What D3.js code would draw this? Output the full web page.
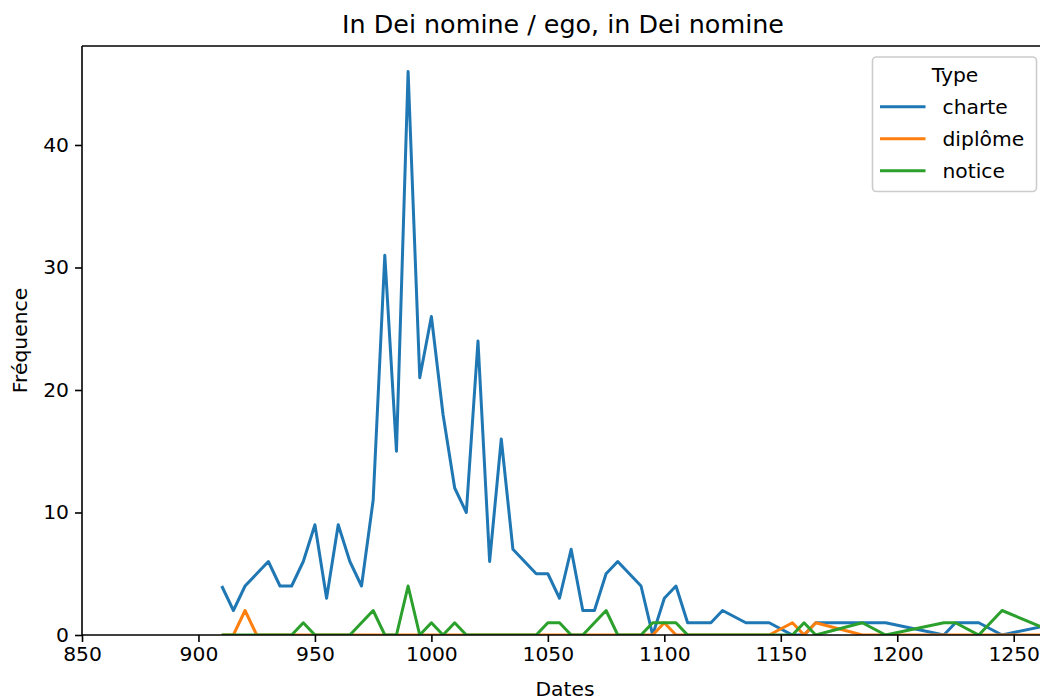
<!DOCTYPE html>
<html>
<head>
<meta charset="utf-8">
<script src="https://cdn.jsdelivr.net/npm/d3@7"></script>
<style>
  html, body { margin: 0; padding: 0; background: #fff; overflow: hidden; }
  text { font-family: "DejaVu Sans", sans-serif; fill: #000; }
</style>
</head>
<body>
<svg id="chart" width="1040" height="697"></svg>
<script>
// ---- data ----
const years = [910, 915, 920, 925, 930, 935, 940, 945, 950, 955, 960, 965, 970, 975, 980, 985, 990, 995,
  1000, 1005, 1010, 1015, 1020, 1025, 1030, 1035, 1040, 1045, 1050, 1055, 1060, 1065, 1070, 1075, 1080,
  1085, 1090, 1095, 1100, 1105, 1110, 1115, 1120, 1125, 1135, 1140, 1145, 1155, 1160, 1165, 1185, 1195,
  1220, 1225, 1235, 1245, 1270];
const charte = [4, 2, 4, 5, 6, 4, 4, 6, 9, 3, 9, 6, 4, 11, 31, 15, 46, 21,
  26, 18, 12, 10, 24, 6, 16, 7, 6, 5, 5, 3, 7, 2, 2, 5, 6,
  5, 4, 0, 3, 4, 1, 1, 1, 2, 1, 1, 1, 0, 0, 1, 1, 1,
  0, 1, 1, 0, 1];
const diplome = [0, 0, 2, 0, 0, 0, 0, 0, 0, 0, 0, 0, 0, 0, 0, 0, 0, 0,
  0, 0, 0, 0, 0, 0, 0, 0, 0, 0, 0, 0, 0, 0, 0, 0, 0,
  0, 0, 0, 1, 0, 0, 0, 0, 0, 0, 0, 0, 1, 0, 1, 0, 0,
  0, 0, 0, 0, 0];
const notice = [0, 0, 0, 0, 0, 0, 0, 1, 0, 0, 0, 0, 1, 2, 0, 0, 4, 0,
  1, 0, 1, 0, 0, 0, 0, 0, 0, 0, 1, 1, 0, 0, 1, 2, 0,
  0, 0, 1, 1, 1, 0, 0, 0, 0, 0, 0, 0, 0, 1, 0, 1, 0,
  1, 1, 0, 2, 0];
const seriesNames = ["charte", "diplôme", "notice"];
const seriesValues = [charte, diplome, notice];
const seriesColors = ["#1f77b4", "#ff7f0e", "#2ca02c"];
const xTicks = [850, 900, 950, 1000, 1050, 1100, 1150, 1200, 1250];
const yTicks = [0, 10, 20, 30, 40];
const titleText = "In Dei nomine / ego, in Dei nomine";
const xLabel = "Dates";
const yLabel = "Fréquence";
const legendTitle = "Type";

(function () {
  // ---- layout ----
  const mLeft = 82, mRight = 1044, mTop = 46, mBottom = 635;
  const svg = d3.select("#chart");

  const x = d3.scaleLinear().domain([850, 1263]).range([mLeft, mRight]);
  const y = d3.scaleLinear().domain([0, 48.08]).range([mBottom, mTop]);

  svg.append("defs").append("clipPath").attr("id", "clip")
    .append("rect").attr("x", mLeft).attr("y", mTop).attr("width", mRight - mLeft).attr("height", mBottom - mTop);

  // lines
  const line = d3.line().x(d => x(d[0])).y(d => y(d[1]));
  const gLines = svg.append("g").attr("clip-path", "url(#clip)");
  seriesValues.forEach((vals, i) => {
    gLines.append("path")
      .datum(years.map((yr, j) => [yr, vals[j]]))
      .attr("d", line)
      .attr("fill", "none")
      .attr("stroke", seriesColors[i])
      .attr("stroke-width", 3)
      .attr("stroke-linejoin", "round")
      .attr("stroke-linecap", "butt");
  });

  // axes
  const xAxis = d3.axisBottom(x).tickValues(xTicks).tickFormat(d3.format("d")).tickSizeInner(7).tickSizeOuter(0).tickPadding(5);
  const yAxis = d3.axisLeft(y).tickValues(yTicks).tickFormat(d3.format("d")).tickSizeInner(7).tickSizeOuter(0).tickPadding(6);

  const gx = svg.append("g").attr("transform", `translate(0,${mBottom})`).call(xAxis);
  const gy = svg.append("g").attr("transform", `translate(${mLeft},0)`).call(yAxis);
  [gx, gy].forEach(g => {
    g.select(".domain").remove();
    g.selectAll(".tick line").attr("stroke", "#000").attr("stroke-width", 1.6);
    g.selectAll(".tick text").attr("font-family", "DejaVu Sans").attr("font-size", 20.3).attr("fill", "#000");
  });

  // spines
  const spine = svg.append("g").attr("stroke", "#000").attr("stroke-width", 1.6).attr("fill", "none");
  spine.append("line").attr("x1", mLeft).attr("x2", mLeft).attr("y1", mTop).attr("y2", mBottom);
  spine.append("line").attr("x1", mLeft).attr("x2", mRight).attr("y1", mBottom).attr("y2", mBottom);
  spine.append("line").attr("x1", mLeft).attr("x2", mRight).attr("y1", mTop).attr("y2", mTop);
  spine.append("line").attr("x1", mRight).attr("x2", mRight).attr("y1", mTop).attr("y2", mBottom);

  // title & labels
  svg.append("text").attr("x", (mLeft + mRight) / 2).attr("y", 33).attr("text-anchor", "middle")
    .attr("font-size", 25.4).text(titleText);
  svg.append("text").attr("x", 565).attr("y", 696).attr("text-anchor", "middle")
    .attr("font-size", 20.3).text(xLabel);
  svg.append("text").attr("transform", `translate(27,${(mTop + mBottom) / 2}) rotate(-90)`)
    .attr("text-anchor", "middle").attr("font-size", 20.3).text(yLabel);

  // legend
  const lg = svg.append("g");
  lg.append("rect").attr("x", 872.5).attr("y", 57).attr("width", 164).attr("height", 134.5)
    .attr("rx", 4).attr("fill", "#fff").attr("fill-opacity", 0.8)
    .attr("stroke", "#cccccc").attr("stroke-width", 1.6);
  lg.append("text").attr("x", 955).attr("y", 82).attr("text-anchor", "middle").attr("font-size", 20.3).text(legendTitle);
  seriesNames.forEach((name, i) => {
    const yy = 106.7 + i * 32;
    lg.append("line").attr("x1", 880).attr("x2", 925.5).attr("y1", yy).attr("y2", yy)
      .attr("stroke", seriesColors[i]).attr("stroke-width", 3);
    lg.append("text").attr("x", 942.5).attr("y", yy + 7).attr("font-size", 20.3).text(name);
  });
})();
</script>
</body>
</html>
